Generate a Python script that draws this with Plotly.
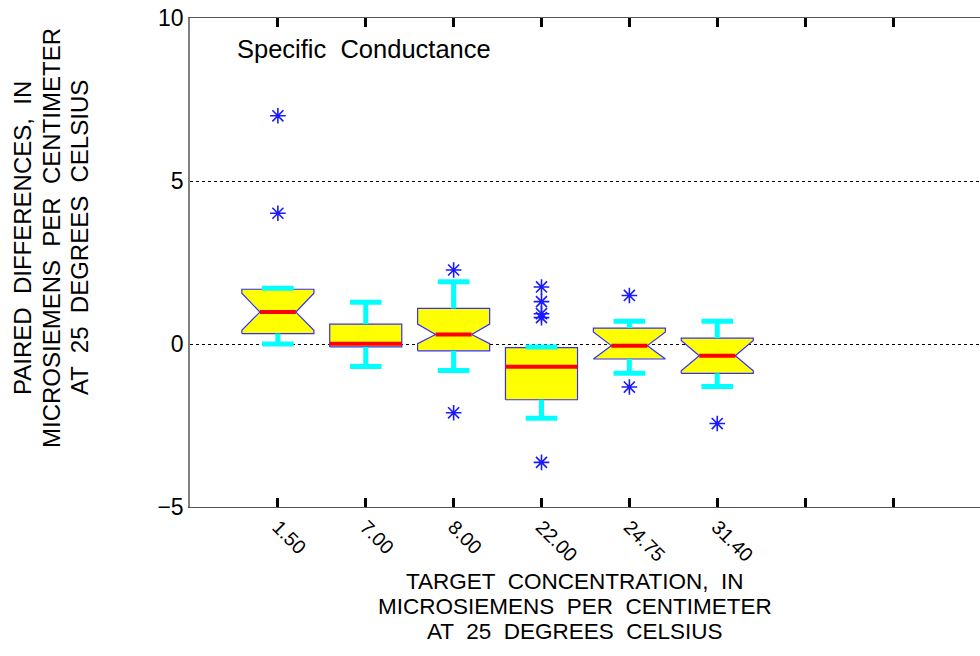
import plotly.graph_objects as go

# Target concentrations (one box per concentration)
categories = ["1.50", "7.00", "8.00", "22.00", "24.75", "31.40"]

# Box statistics of the paired differences
q1 = [0.32, -0.09, -0.21, -1.71, -0.46, -0.90]
q3 = [1.68, 0.61, 1.09, -0.11, 0.49, 0.18]
median = [0.98, 0.01, 0.29, -0.70, -0.05, -0.36]
whisker_lo = [0.00, -0.69, -0.81, -2.28, -0.90, -1.30]
whisker_hi = [1.71, 1.28, 1.91, -0.09, 0.70, 0.70]
notch_lo = [0.42, None, 0.01, None, -0.46, -0.82]
notch_hi = [1.56, None, 0.61, None, 0.37, 0.11]

# Outlying values for each concentration
outliers = [
    [7.00, 4.01],
    [],
    [2.27, -2.11],
    [1.75, 1.30, 0.93, 0.81, -3.63],
    [1.49, -1.32],
    [-2.44],
]

y_ticks = [-5, 0, 5, 10]

FONT = "Liberation Sans, Arial, Helvetica, sans-serif"
BOX_W = 0.41    # half width of a box
NOTCH_W = 0.205  # half width at the notch waist
CAP_W = 0.18    # half width of whisker caps

positions = list(range(1, len(categories) + 1))

# Box outlines (notched where a notch is defined)
bx, by = [], []
for p, lo, hi, md, nl, nh in zip(positions, q1, q3, median, notch_lo, notch_hi):
    if nl is None:
        xs = [p - BOX_W, p - BOX_W, p + BOX_W, p + BOX_W, p - BOX_W]
        ys = [lo, hi, hi, lo, lo]
    else:
        xs = [p - BOX_W, p - BOX_W, p - NOTCH_W, p - BOX_W, p - BOX_W,
              p + BOX_W, p + BOX_W, p + NOTCH_W, p + BOX_W, p + BOX_W, p - BOX_W]
        ys = [lo, nl, md, nh, hi, hi, nh, md, nl, lo, lo]
    bx += xs + [None]
    by += ys + [None]

# Whiskers and caps
wx, wy = [], []
for p, lo, hi, wl, wh in zip(positions, q1, q3, whisker_lo, whisker_hi):
    wx += [p, p, None, p, p, None]
    wy += [hi, wh, None, lo, wl, None]
    wx += [p - CAP_W, p + CAP_W, None, p - CAP_W, p + CAP_W, None]
    wy += [wh, wh, None, wl, wl, None]

# Median bars
mx, my = [], []
for p, md, nl in zip(positions, median, notch_lo):
    half = BOX_W if nl is None else NOTCH_W
    mx += [p - half, p + half, None]
    my += [md, md, None]

# Outlier points
ox, oy = [], []
for p, vals in zip(positions, outliers):
    for v in vals:
        ox.append(p)
        oy.append(v)

fig = go.Figure()
fig.add_trace(go.Scatter(x=bx, y=by, mode="lines", fill="toself",
                         fillcolor="#ffff00",
                         line=dict(color="#3030ff", width=1.2),
                         hoverinfo="skip", showlegend=False))
fig.add_trace(go.Scatter(x=wx, y=wy, mode="lines",
                         line=dict(color="#00ffff", width=5),
                         hoverinfo="skip", showlegend=False))
fig.add_trace(go.Scatter(x=mx, y=my, mode="lines",
                         line=dict(color="#ff0000", width=4),
                         hoverinfo="skip", showlegend=False))
fig.add_trace(go.Scatter(x=ox, y=oy, mode="markers",
                         marker=dict(symbol="asterisk-open", size=13,
                                     color="#1a1aff",
                                     line=dict(color="#1a1aff", width=1.6)),
                         showlegend=False))

tick_vals = list(range(1, 9))
tick_text = categories + [""] * (len(tick_vals) - len(categories))


def label(text, px, py, angle=0, size=24):
    """Text placed by its centre, given in pixel coordinates of the page."""
    return dict(text=text, xref="paper", yref="paper",
                x=(px - 190) / 790, y=(507 - py) / 489,
                xanchor="center", yanchor="middle", textangle=angle,
                showarrow=False, borderpad=0,
                font=dict(size=size, family=FONT, color="black"))


fig.update_layout(
    width=980, height=656, autosize=False,
    margin=dict(l=190, r=0, t=18, b=149, pad=0),
    paper_bgcolor="white", plot_bgcolor="white",
    font=dict(family=FONT, color="black"),
    xaxis=dict(range=[0, 8.99], tickmode="array", tickvals=tick_vals,
               ticktext=tick_text, tickangle=45, ticks="inside",
               ticklen=9, tickwidth=3, tickcolor="black",
               showline=True, linecolor="#555555", linewidth=1,
               mirror="ticks", showgrid=False, zeroline=False,
               tickfont=dict(size=19.5, family=FONT, color="black")),
    yaxis=dict(range=[-5, 10], tickmode="array", tickvals=y_ticks,
               showgrid=True, gridcolor="black", gridwidth=1,
               griddash="3px,3px", zeroline=False, showline=True,
               linecolor="#808080", linewidth=1.5, ticks="",
               tickfont=dict(size=23, family=FONT, color="black")),
    annotations=[
        dict(text="Specific  Conductance", xref="paper", yref="paper",
             x=(236 - 190) / 790, y=(507 - 49) / 489, xanchor="left",
             yanchor="middle", showarrow=False, borderpad=0,
             font=dict(size=25.5, family=FONT, color="black")),
        label("TARGET  CONCENTRATION,  IN", 575, 581, size=22.5),
        label("MICROSIEMENS  PER  CENTIMETER", 575, 606, size=22.5),
        label("AT  25  DEGREES  CELSIUS", 575, 631, size=22.5),
        label("PAIRED  DIFFERENCES,  IN", 22, 238, angle=-90),
        label("MICROSIEMENS  PER  CENTIMETER", 51, 238, angle=-90),
        label("AT  25  DEGREES  CELSIUS", 79, 238, angle=-90),
    ],
)

fig.write_html("out.html")
